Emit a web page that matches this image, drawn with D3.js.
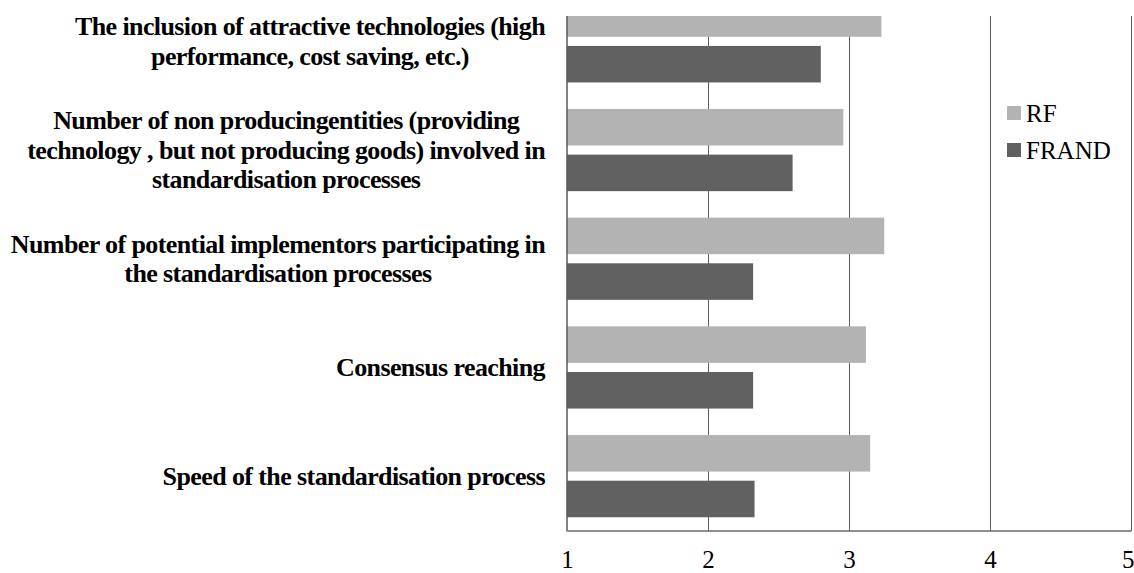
<!DOCTYPE html>
<html>
<head>
<meta charset="utf-8">
<script src="https://cdn.jsdelivr.net/npm/d3@7"></script>
<style>
  html, body { margin: 0; padding: 0; background: #ffffff; }
  svg { display: block; }
</style>
</head>
<body>
<svg id="chart" width="1134" height="573"></svg>
<script>
// Survey criteria, listed top to bottom
const categories = [
  "The inclusion of attractive technologies (high performance, cost saving, etc.)",
  "Number of non producing entities (providing technology, but not producing goods) involved in standardisation processes",
  "Number of potential implementors participating in the standardisation processes",
  "Consensus reaching",
  "Speed of the standardisation process"
];
// Wrapped label lines as shown beside each group
const labelLines = [
  ["The inclusion of attractive technologies (high", "performance, cost saving, etc.)"],
  ["Number of non producingentities (providing", "technology , but not producing goods) involved in", "standardisation processes"],
  ["Number of potential implementors participating in", "the standardisation processes"],
  ["Consensus reaching"],
  ["Speed of the standardisation process"]
];
const seriesNames = ["RF", "FRAND"];
const rfValues    = [3.23, 2.96, 3.25, 3.12, 3.15];
const frandValues = [2.80, 2.60, 2.32, 2.32, 2.33];
const xTicks = [1, 2, 3, 4, 5];
const seriesColors = ["#b3b3b3", "#616161"];

const svg = d3.select("#chart");

// Plot frame
const plotLeft = 567, plotRight = 1131, plotTop = 16, plotBottom = 530.5;
const groupStep = 108.7;

const x = d3.scaleLinear().domain([1, 5]).range([plotLeft, plotRight]);
const y = d3.scaleBand()
  .domain(categories)
  .range([plotBottom - groupStep * categories.length, plotBottom])
  .paddingInner(0).paddingOuter(0);
const ySub = d3.scaleBand()
  .domain(seriesNames)
  .range([0, y.bandwidth()])
  .paddingInner(0.2)
  .paddingOuter(0.29);

const color = d3.scaleOrdinal().domain(seriesNames).range(seriesColors);

svg.append("defs").append("clipPath").attr("id", "plotClip")
  .append("rect")
  .attr("x", plotLeft).attr("y", plotTop)
  .attr("width", plotRight - plotLeft + 2).attr("height", plotBottom - plotTop);

// Vertical gridlines
svg.append("g")
  .selectAll("line")
  .data(xTicks.slice(1))
  .join("line")
  .attr("x1", d => Math.round(x(d)) + 0.5).attr("x2", d => Math.round(x(d)) + 0.5)
  .attr("y1", plotTop).attr("y2", plotBottom)
  .attr("stroke", "#5e5e5e").attr("stroke-width", 1)
  .attr("shape-rendering", "crispEdges");

// Bars
const rows = categories.map((c, i) => ({ cat: c, values: [rfValues[i], frandValues[i]] }));
const bars = svg.append("g").attr("clip-path", "url(#plotClip)");
bars.selectAll("g")
  .data(rows)
  .join("g")
  .attr("transform", d => `translate(0,${y(d.cat)})`)
  .selectAll("rect")
  .data(d => d.values.map((v, k) => ({ key: seriesNames[k], value: v })))
  .join("rect")
  .attr("x", x(1))
  .attr("y", d => ySub(d.key))
  .attr("width", d => x(d.value) - x(1))
  .attr("height", ySub.bandwidth())
  .attr("fill", d => color(d.key));

// Axis lines
svg.append("line")
  .attr("x1", plotLeft).attr("x2", plotLeft)
  .attr("y1", plotTop).attr("y2", plotBottom + 1)
  .attr("stroke", "#5a5a5a").attr("stroke-width", 1.5);

const labelFont = "'Liberation Serif', 'Times New Roman', serif";

const xAxis = svg.append("g")
  .attr("transform", `translate(0,${plotBottom})`)
  .call(d3.axisBottom(x).tickValues(xTicks).tickSize(0).tickPadding(25).tickFormat(d3.format("d")));
xAxis.select(".domain").attr("stroke", "#6a6a6a").attr("stroke-width", 1.5);
xAxis.selectAll("text")
  .attr("font-family", labelFont)
  .attr("font-size", 25)
  .attr("fill", "#000")
  .attr("dy", "0.5em");
// keep the last tick label inside the page edge
xAxis.selectAll(".tick").filter(d => d === xTicks[xTicks.length - 1])
  .select("text").attr("text-anchor", "end").attr("x", 3);

// Category labels, wrapped and centred on their widest line
const labelRight = 545;
const lineGap = 29.5;
labelLines.forEach((lines, i) => {
  const g = svg.append("g");
  const cy = y(categories[i]) + y.bandwidth() / 2;
  const texts = g.selectAll("text")
    .data(lines)
    .join("text")
    .attr("font-family", labelFont)
    .attr("font-weight", "bold")
    .attr("font-size", 26)
    .attr("letter-spacing", -0.6)
    .attr("fill", "#000")
    .attr("text-anchor", "middle")
    .attr("dominant-baseline", "central")
    .attr("y", (d, k) => cy + (k - (lines.length - 1) / 2) * lineGap)
    .text(d => d);
  const widest = d3.max(texts.nodes(), n => n.getComputedTextLength());
  texts.attr("x", labelRight - widest / 2);
});

// Legend
const legend = svg.append("g")
  .selectAll("g")
  .data(seriesNames)
  .join("g")
  .attr("transform", (d, i) => `translate(1007,${113 + i * 37})`);
legend.append("rect")
  .attr("x", 0).attr("y", -7)
  .attr("width", 14).attr("height", 14)
  .attr("fill", d => color(d));
legend.append("text")
  .attr("x", 19).attr("y", 0)
  .attr("dominant-baseline", "central")
  .attr("font-family", labelFont)
  .attr("font-size", 25)
  .attr("fill", "#000")
  .text(d => d);
</script>
</body>
</html>
